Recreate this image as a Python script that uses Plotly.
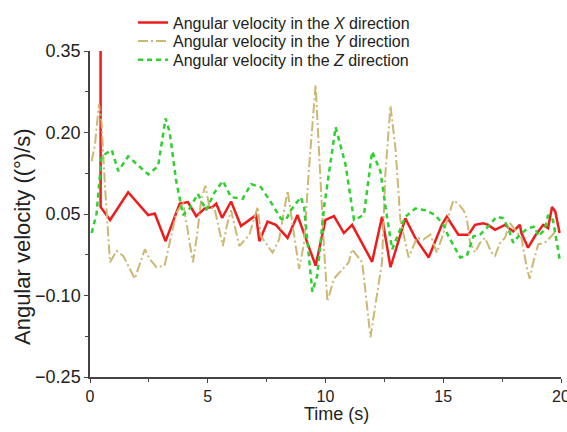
import plotly.graph_objects as go

# X direction (red)
tx = [0.45, 0.45, 0.85, 1.62, 2.47, 2.75, 3.21, 3.81, 4.16, 4.51, 4.86, 5.21, 5.36, 5.61, 5.99, 6.41, 7.05,
      7.19, 7.54, 7.89, 8.39, 8.81, 9.23, 9.58, 10.0, 10.36, 10.78, 11.13, 11.98, 12.40, 12.76, 13.39,
      13.81, 14.38, 14.94, 15.15, 15.64, 16.07, 16.35, 16.70, 16.91, 17.20, 17.62, 17.97, 18.25, 18.32,
      18.60, 18.89, 19.24, 19.45, 19.62, 19.76, 19.94]
vx = [0.35, 0.063, 0.039, 0.090, 0.048, 0.051, 0.0, 0.069, 0.072, 0.046, 0.060, 0.063, 0.069, 0.043, 0.073, 0.028, 0.048,
      0.0, 0.036, 0.030, 0.006, 0.048, -0.003, -0.045, 0.039, 0.046, 0.015, 0.030, -0.038, 0.045, -0.048, 0.042,
      0.006, -0.030, 0.030, 0.045, 0.012, 0.012, 0.030, 0.033, 0.030, 0.021, 0.030, 0.018, 0.030, 0.015,
      -0.012, 0.009, 0.030, 0.024, 0.063, 0.054, 0.015]

# Y direction (khaki)
ty = [0.07, 0.21, 0.38, 0.49, 0.63, 0.78, 0.85, 1.13, 1.41, 1.90, 2.33, 2.54, 2.82, 3.17, 3.38, 3.66, 3.95,
      4.37, 4.54, 4.72, 4.90, 5.07, 5.29, 5.64, 5.82, 5.99, 6.34, 6.77, 7.12, 7.26, 7.75, 8.03, 8.39, 8.53,
      8.67, 8.88, 9.09, 9.30, 9.58, 9.73, 9.94, 10.08, 10.36, 10.99, 11.13, 11.56, 11.70, 11.91, 12.12, 12.40,
      12.54, 12.76, 12.97, 13.18, 13.53, 13.88, 14.16, 14.45, 14.73, 14.94, 15.43, 15.64, 15.86, 16.00, 16.14,
      16.35, 16.56, 16.77, 17.05, 17.20, 17.41, 17.62, 17.83, 18.04, 18.32, 18.53, 18.67, 18.82, 19.03, 19.31,
      19.59, 19.87]
vy = [0.147, 0.177, 0.252, 0.219, 0.105, -0.009, -0.039, -0.018, -0.027, -0.069, -0.015, -0.033, -0.048, -0.045, -0.003, 0.051, 0.072,
      -0.039, 0.009, 0.075, 0.102, 0.063, 0.060, -0.009, 0.030, 0.057, -0.009, 0.012, 0.063, 0.009, -0.021, 0.003, 0.093, 0.051,
      0.003, -0.051, -0.003, 0.135, 0.288, 0.153, -0.015, -0.111, -0.069, -0.039, -0.015, -0.039, -0.099, -0.177, -0.117, -0.039,
      0.123, 0.249, 0.171, 0.039, -0.030, 0.006, 0.003, 0.012, -0.021, 0.006, 0.075, 0.069, 0.057, 0.042, -0.003,
      -0.021, -0.003, 0.006, -0.021, -0.027, -0.003, 0.006, 0.033, 0.021, 0.006, -0.045, -0.069, -0.039, -0.006, -0.003,
      0.009, 0.024]

# Z direction (green)
tz = [0.07, 0.28, 0.49, 0.92, 1.20, 1.62, 2.47, 2.89, 3.21, 3.38, 3.66, 3.95, 4.23, 4.58, 4.93, 5.29, 5.64,
      5.99, 6.48, 6.84, 7.26, 7.68, 8.10, 8.32, 8.53, 8.95, 9.09, 9.44, 9.65, 9.94, 10.43, 10.85, 11.21,
      11.63, 11.98, 12.33, 12.61, 12.83, 13.39, 13.81, 14.23, 14.66, 15.01, 15.22, 15.72, 16.00, 16.28, 16.56,
      16.91, 17.26, 17.55, 17.76, 17.97, 18.25, 18.60, 18.89, 19.03, 19.31, 19.45, 19.66, 19.94]
vz = [0.015, 0.051, 0.156, 0.168, 0.129, 0.156, 0.123, 0.138, 0.226, 0.201, 0.111, 0.048, 0.060, 0.087, 0.057, 0.090, 0.111,
      0.081, 0.078, 0.105, 0.099, 0.072, 0.042, 0.039, 0.057, 0.081, 0.063, -0.093, -0.063, 0.063, 0.210, 0.141, 0.039,
      0.048, 0.165, 0.129, 0.045, -0.015, 0.045, 0.060, 0.057, 0.048, 0.030, 0.009, -0.030, -0.027, 0.009, 0.012,
      0.027, 0.045, 0.042, 0.024, -0.003, 0.012, 0.024, 0.027, 0.009, 0.021, 0.048, 0.039, -0.033]

xtitle = "Time (s)"
ytitle = "Angular velocity ((°)/s)"

font = "Arial, Liberation Sans, sans-serif"
fig = go.Figure()
fig.add_trace(go.Scatter(x=tx, y=vx, mode="lines", name="Angular velocity in the <i>X</i> direction",
                         line=dict(color="#ee1c1c", width=2.5), legend="legend"))
fig.add_trace(go.Scatter(x=ty, y=vy, mode="lines", name="Angular velocity in the <i>Y</i> direction",
                         line=dict(color="#cdb873", width=2, dash="10px,3px,2px,3px"), legend="legend2"))
fig.add_trace(go.Scatter(x=tz, y=vz, mode="lines", name="Angular velocity in the <i>Z</i> direction",
                         line=dict(color="#2ed12e", width=2.5, dash="5px,4px"), legend="legend3"))

axis_common = dict(showgrid=False, zeroline=False, showline=True, linecolor="#444", linewidth=1.5,
                   ticks="outside", ticklen=4, tickcolor="#444", tickwidth=1, ticklabeloverflow="allow",
                   automargin=False)
fig.update_xaxes(range=[0, 20], tick0=0, dtick=5, **axis_common,
                 tickfont=dict(size=16, color="#222", family=font),
                 minor=dict(ticks="outside", dtick=2.5, ticklen=3, tickcolor="#444"))
fig.update_yaxes(range=[-0.25, 0.35], tick0=-0.25, dtick=0.15, tickformat=".2f", **axis_common,
                 tickfont=dict(size=18, color="#222", family=font),
                 minor=dict(ticks="outside", dtick=0.075, tick0=-0.25, ticklen=3, tickcolor="#444"))
fig.add_annotation(text=xtitle, xref="paper", yref="paper", x=(336 - 90) / 471, y=-(415 - 377) / 333,
                   xanchor="center", yanchor="middle", showarrow=False,
                   font=dict(size=18, color="#222", family=font))
fig.add_annotation(text=ytitle, xref="paper", yref="paper", x=-(90 - 22) / 471, y=(377 - 234) / 333,
                   xanchor="center", yanchor="middle", textangle=-90, showarrow=False,
                   font=dict(size=22, color="#222", family=font))

leg_common = dict(x=(133 - 90) / 471, xanchor="left", yanchor="middle", bgcolor="rgba(0,0,0,0)",
                  font=dict(size=16, color="#222", family=font), itemwidth=30)
fig.update_layout(
    width=567, height=432, margin=dict(l=90, r=6, t=44, b=55),
    plot_bgcolor="white", paper_bgcolor="white",
    font=dict(family=font, color="#222"),
    showlegend=True,
    legend=dict(y=(377 - 15) / 333, **leg_common),
    legend2=dict(y=(377 - 34) / 333, **leg_common),
    legend3=dict(y=(377 - 53) / 333, **leg_common),
)
fig.write_html("out.html")
